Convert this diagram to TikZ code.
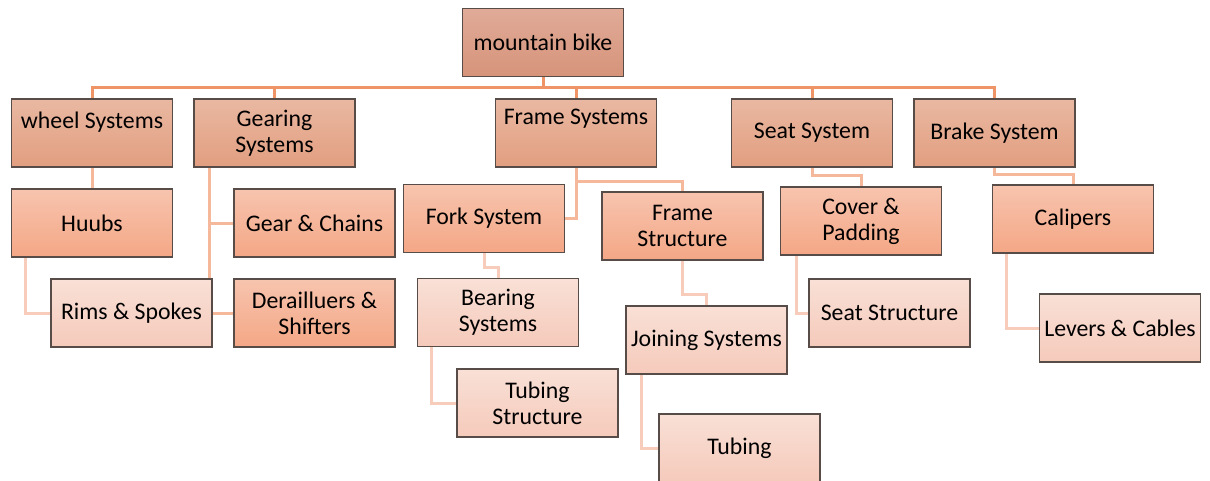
\documentclass[tikz,border=0pt]{standalone}
\usepackage{fontspec}
\setmainfont{Carlito}
\usetikzlibrary{calc}
\pgfdeclarelayer{background}
\pgfsetlayers{background,main}
\definecolor{bord}{HTML}{574C48}
\definecolor{rootT}{HTML}{E0AB98}
\definecolor{rootB}{HTML}{D6937A}
\definecolor{lvA}{HTML}{E9B8A2}
\definecolor{lvAb}{HTML}{E29E80}
\definecolor{lvB}{HTML}{F7C4AE}
\definecolor{lvBb}{HTML}{F4A786}
\definecolor{lvC}{HTML}{F9E0D6}
\definecolor{lvCb}{HTML}{F5CABB}
\definecolor{busc}{HTML}{EE9466}
\definecolor{linkA}{HTML}{F5B89A}
\definecolor{linkB}{HTML}{F8CCBB}
\tikzset{
  box/.style={draw=bord, line width=1.3pt, minimum width=161pt, minimum height=68pt,
    inner sep=0pt, align=center, font=\fontsize{23.8}{26}\selectfont},
  rootbox/.style={box, top color=rootT, bottom color=rootB},
  lone/.style={box, top color=lvA, bottom color=lvAb},
  ltwo/.style={box, top color=lvB, bottom color=lvBb},
  lthree/.style={box, top color=lvC, bottom color=lvCb},
  bus/.style={draw=busc, line width=3pt},
  linkone/.style={draw=linkA, line width=3pt},
  linktwo/.style={draw=linkB, line width=3pt},
}
\begin{document}
\begin{tikzpicture}[x=1pt,y=-1pt]
\useasboundingbox (0,0) rectangle (1210,480);
\node[rootbox] (root) at (543,42.5) {mountain bike};
\node[lone] (wheel) at (92,133) {wheel Systems\\~};
\node[lone] (gear) at (274.5,133) {Gearing\\Systems};
\node[lone] (frame) at (576,133) {Frame Systems\\[6pt]~};
\node[lone] (seat) at (812,133) {Seat System};
\node[lone] (brake) at (994.5,133) {Brake System};
\node[ltwo] (huubs) at (92,223) {Huubs};
\node[ltwo] (gc) at (314.5,223) {Gear \& Chains};
\node[lthree] (rims) at (131.5,313) {Rims \& Spokes};
\node[ltwo] (der) at (314.5,313) {Derailluers \&\\Shifters};
\node[ltwo] (fork) at (484,218.5) {Fork System};
\node[ltwo] (fstruct) at (682.5,226) {Frame\\Structure};
\node[lthree] (bearing) at (498,312.5) {Bearing\\Systems};
\node[lthree] (tstruct) at (537.5,403) {Tubing\\Structure};
\node[lthree] (join) at (706.5,340) {Joining Systems};
\node[lthree] (tubing) at (739.5,448) {Tubing};
\node[ltwo] (cover) at (861,221) {Cover \&\\Padding};
\node[lthree] (seatstr) at (889.5,313) {Seat Structure};
\node[ltwo] (calipers) at (1073,219) {Calipers};
\node[lthree] (levers) at (1120,328) {Levers \& Cables};
\coordinate (busy) at (0,87);
\begin{pgfonlayer}{background}
\draw[bus] (wheel.north) -- (wheel.north |- busy) -- (brake.north |- busy) -- (brake.north);
\draw[bus] (root.south) -- (root.south |- busy);
\draw[bus] (gear.north) -- (gear.north |- busy);
\draw[bus] (frame.north) -- (frame.north |- busy);
\draw[bus] (seat.north) -- (seat.north |- busy);
\draw[linkone] (wheel.south) -- (huubs.north);
\draw[linkone] ([xshift=16pt]gear.south west) |- (der.west);
\draw[linkone] ([xshift=16pt]gear.south west) |- (gc.west);
\draw[linktwo] ([xshift=15pt]huubs.south west) |- (rims.west);
\draw[linkone] (frame.south) -- ++(0,14) -| (fstruct.north);
\draw[linkone] (frame.south) |- (fork.east);
\draw[linktwo] (fork.south) -- ++(0,14) -| (bearing.north);
\draw[linktwo] ([xshift=15pt]bearing.south west) |- (tstruct.west);
\draw[linktwo] (fstruct.south) -- ++(0,34) -| (join.north);
\draw[linktwo] ([xshift=16pt]join.south west) |- (tubing.west);
\draw[linkone] (seat.south) -- ++(0,8) -| (cover.north);
\draw[linktwo] ([xshift=17pt]cover.south west) |- (seatstr.west);
\draw[linkone] (brake.south) -- ++(0,7) -| (calipers.north);
\draw[linktwo] ([xshift=15pt]calipers.south west) |- (levers.west);
\end{pgfonlayer}
\end{tikzpicture}
\end{document}
